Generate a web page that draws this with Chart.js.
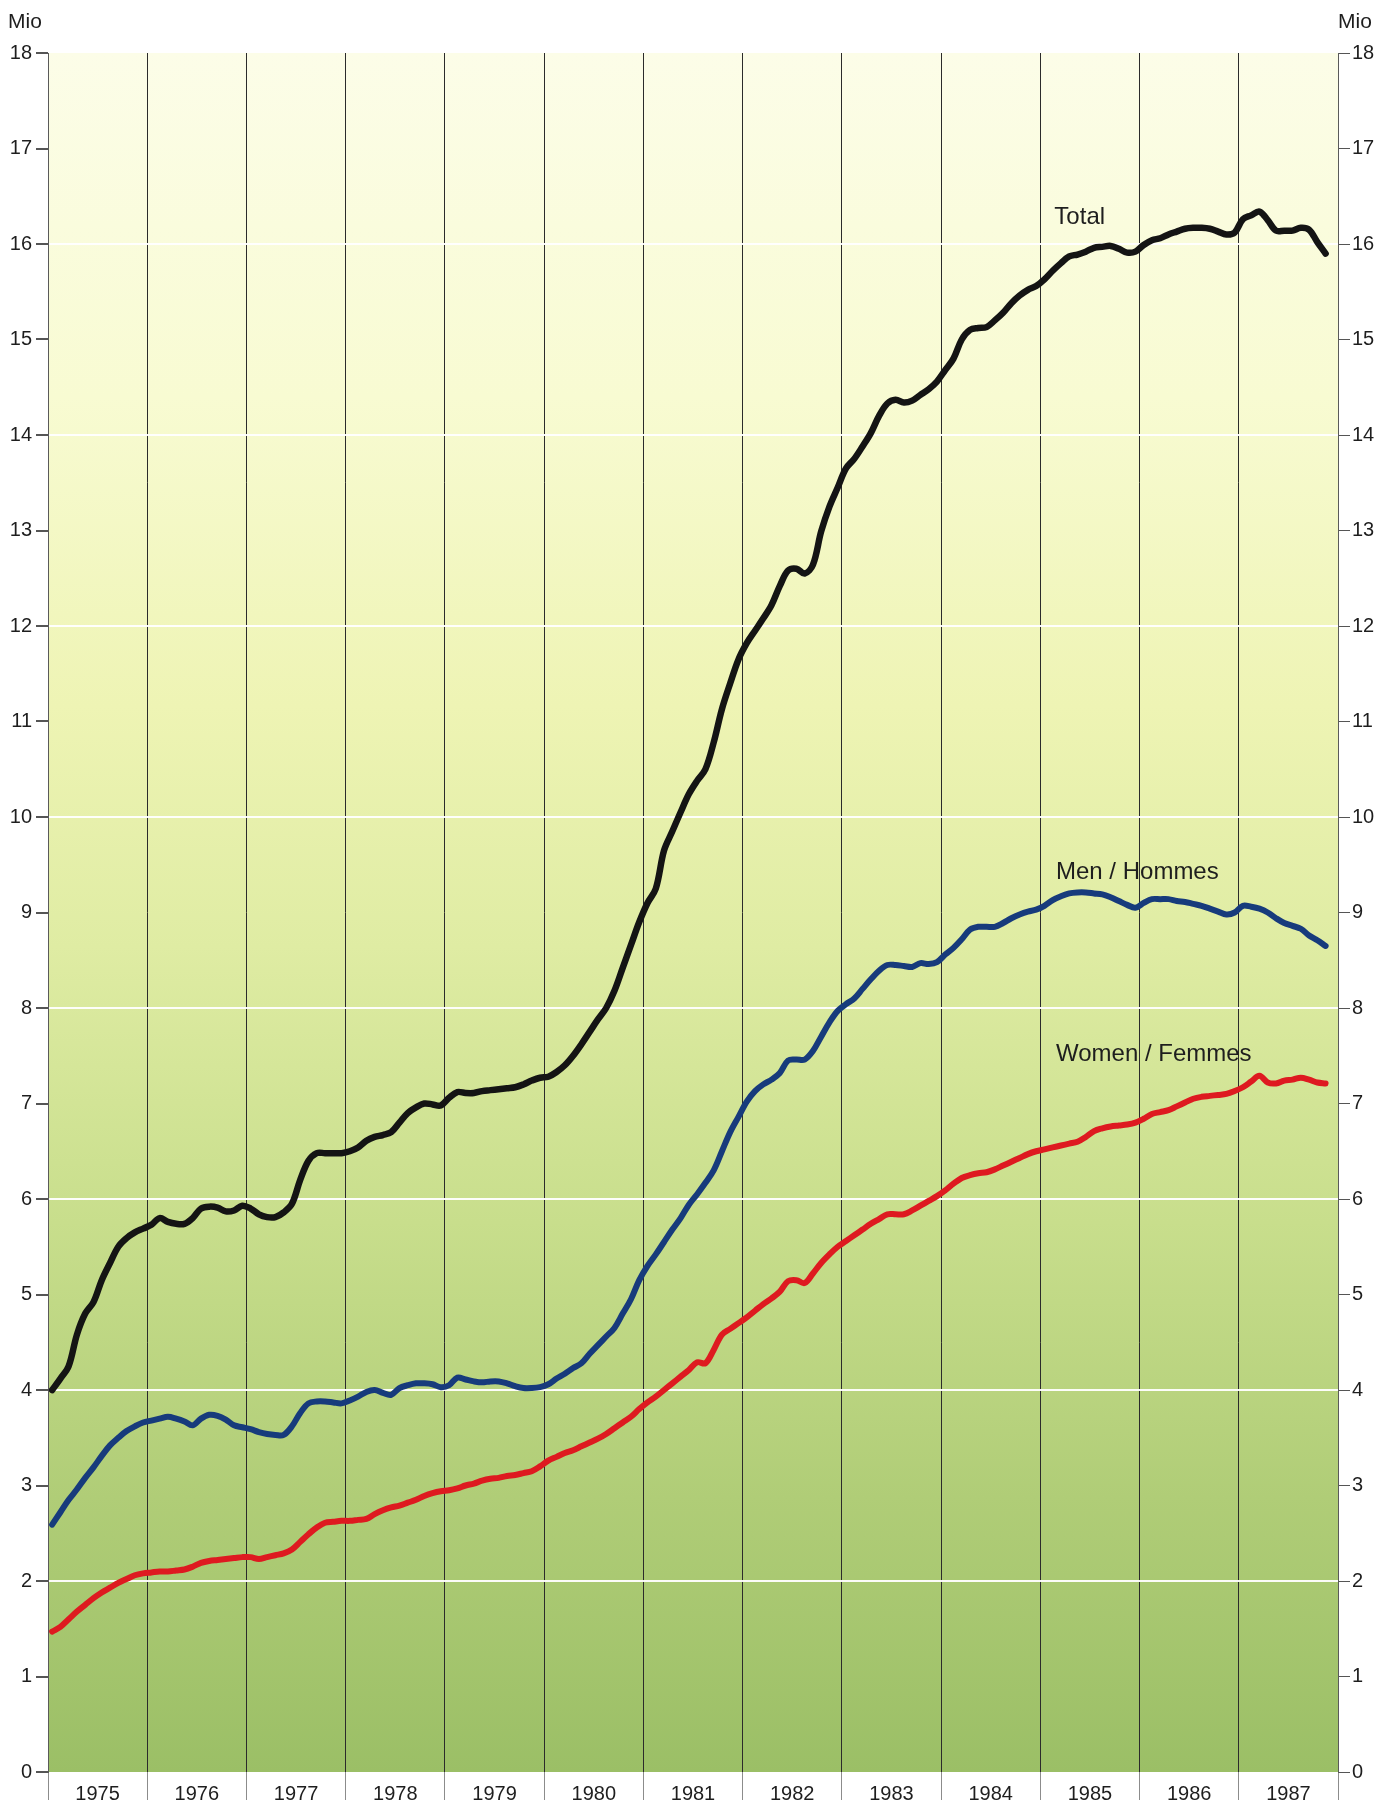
<!DOCTYPE html>
<html>
<head>
<meta charset="utf-8">
<script src="https://cdn.jsdelivr.net/npm/chart.js@4.4.0/dist/chart.umd.min.js"></script>
<style>
  html, body { margin: 0; padding: 0; background: #ffffff; }
  #chart { display: block; }
</style>
</head>
<body>
<canvas id="chart" width="1386" height="1805"></canvas>
<script>
// Jahre (x-Achse, je 12 Monate)
const years = ['1975','1976','1977','1978','1979','1980','1981','1982','1983','1984','1985','1986','1987'];

// Monatswerte in Mio, Jan 1975 - Nov 1987
const total = [
  4.00, 4.12, 4.25, 4.58, 4.80, 4.92, 5.15, 5.33, 5.50, 5.59, 5.65, 5.69,
  5.73, 5.80, 5.76, 5.74, 5.74, 5.80, 5.90, 5.92, 5.91, 5.87, 5.88, 5.93,
  5.90, 5.84, 5.81, 5.81, 5.86, 5.95, 6.20, 6.40, 6.48, 6.48, 6.48, 6.48,
  6.50, 6.54, 6.61, 6.65, 6.67, 6.70, 6.80, 6.90, 6.96, 7.00, 6.99, 6.98,
  7.06, 7.12, 7.11, 7.11, 7.13, 7.14, 7.15, 7.16, 7.17, 7.20, 7.24, 7.27,
  7.28, 7.33, 7.40, 7.50, 7.62, 7.75, 7.88, 8.00, 8.18, 8.42, 8.66, 8.90,
  9.10, 9.25, 9.65, 9.85, 10.05, 10.24, 10.38, 10.50, 10.78, 11.13, 11.40, 11.65,
  11.82, 11.95, 12.08, 12.22, 12.42, 12.58, 12.60, 12.55, 12.64, 12.99, 13.25, 13.45,
  13.65, 13.75, 13.88, 14.02, 14.20, 14.33, 14.37, 14.34, 14.36, 14.42, 14.48, 14.56,
  14.68, 14.80, 15.00, 15.10, 15.12, 15.13, 15.20, 15.28, 15.38, 15.46, 15.52, 15.56,
  15.63, 15.72, 15.80, 15.87, 15.89, 15.92, 15.96, 15.97, 15.98, 15.95, 15.91, 15.92,
  15.99, 16.04, 16.06, 16.10, 16.13, 16.16, 16.17, 16.17, 16.16, 16.13, 16.10, 16.12,
  16.26, 16.30, 16.34, 16.25, 16.14, 16.14, 16.14, 16.17, 16.15, 16.02, 15.90
];
const men = [
  2.59, 2.72, 2.85, 2.96, 3.08, 3.19, 3.31, 3.42, 3.50, 3.57, 3.62, 3.66,
  3.68, 3.70, 3.72, 3.70, 3.67, 3.63, 3.70, 3.74, 3.73, 3.69, 3.63, 3.61,
  3.59, 3.56, 3.54, 3.53, 3.53, 3.62, 3.76, 3.86, 3.88, 3.88, 3.87, 3.86,
  3.89, 3.93, 3.98, 4.00, 3.97, 3.95, 4.02, 4.05, 4.07, 4.07, 4.06, 4.03,
  4.05, 4.13, 4.11, 4.09, 4.08, 4.09, 4.09, 4.07, 4.04, 4.02, 4.02, 4.03,
  4.06, 4.12, 4.17, 4.23, 4.28, 4.38, 4.47, 4.56, 4.65, 4.80, 4.95, 5.15,
  5.30, 5.42, 5.55, 5.68, 5.80, 5.94, 6.05, 6.17, 6.30, 6.50, 6.70, 6.86,
  7.02, 7.13, 7.20, 7.25, 7.32, 7.45, 7.46, 7.46, 7.55, 7.70, 7.85, 7.97,
  8.04, 8.10, 8.20, 8.30, 8.39, 8.45, 8.45, 8.44, 8.43, 8.47, 8.46, 8.48,
  8.56, 8.63, 8.72, 8.82, 8.85, 8.85, 8.85, 8.89, 8.94, 8.98, 9.01, 9.03,
  9.07, 9.13, 9.17, 9.20, 9.21, 9.21, 9.20, 9.19, 9.16, 9.12, 9.08, 9.05,
  9.10, 9.14, 9.14, 9.14, 9.12, 9.11, 9.09, 9.07, 9.04, 9.01, 8.98, 9.00,
  9.07, 9.06, 9.04, 9.00, 8.94, 8.89, 8.86, 8.83, 8.76, 8.71, 8.65
];
const women = [
  1.47, 1.52, 1.60, 1.68, 1.75, 1.82, 1.88, 1.93, 1.98, 2.02, 2.06, 2.08,
  2.09, 2.10, 2.10, 2.11, 2.12, 2.15, 2.19, 2.21, 2.22, 2.23, 2.24, 2.25,
  2.25, 2.23, 2.25, 2.27, 2.29, 2.33, 2.41, 2.49, 2.56, 2.61, 2.62, 2.63,
  2.63, 2.64, 2.65, 2.70, 2.74, 2.77, 2.79, 2.82, 2.85, 2.89, 2.92, 2.94,
  2.95, 2.97, 3.00, 3.02, 3.05, 3.07, 3.08, 3.10, 3.11, 3.13, 3.15, 3.20,
  3.26, 3.30, 3.34, 3.37, 3.41, 3.45, 3.49, 3.54, 3.60, 3.66, 3.72, 3.80,
  3.87, 3.93, 4.00, 4.07, 4.14, 4.21, 4.29, 4.28, 4.42, 4.58, 4.64, 4.70,
  4.76, 4.83, 4.90, 4.96, 5.03, 5.14, 5.15, 5.12, 5.22, 5.33, 5.42, 5.50,
  5.56, 5.62, 5.68, 5.74, 5.79, 5.84, 5.84, 5.84, 5.88, 5.93, 5.98, 6.03,
  6.09, 6.16, 6.22, 6.25, 6.27, 6.28, 6.31, 6.35, 6.39, 6.43, 6.47, 6.50,
  6.52, 6.54, 6.56, 6.58, 6.60, 6.65, 6.71, 6.74, 6.76, 6.77, 6.78, 6.80,
  6.84, 6.89, 6.91, 6.93, 6.97, 7.01, 7.05, 7.07, 7.08, 7.09, 7.10, 7.13,
  7.17, 7.23, 7.29, 7.22, 7.21, 7.24, 7.25, 7.27, 7.25, 7.22, 7.21
];

// Beschriftung der Kurven
const seriesNames = ['Total', 'Men / Hommes', 'Women / Femmes'];

const FONT = '"Liberation Sans", Arial, Helvetica, sans-serif';
const toPoints = arr => arr.map((v, i) => ({ x: i + 0.5, y: v }));

// Hintergrund: blassgelb oben, grün unten
const backgroundPlugin = {
  id: 'paper',
  beforeDraw(chart) {
    const { ctx, chartArea: a } = chart;
    const g = ctx.createLinearGradient(0, a.top, 0, a.bottom);
    g.addColorStop(0.00, '#fcfde8');
    g.addColorStop(0.20, '#f8fbd2');
    g.addColorStop(0.38, '#eef4b4');
    g.addColorStop(0.52, '#dfeca3');
    g.addColorStop(0.68, '#c8de8c');
    g.addColorStop(0.84, '#b0cd77');
    g.addColorStop(1.00, '#9bbf66');
    ctx.save();
    ctx.fillStyle = g;
    ctx.fillRect(a.left, a.top, a.right - a.left, a.bottom - a.top);
    ctx.restore();
  }
};

// Jahreszahlen, "Mio" und Kurvennamen
const textPlugin = {
  id: 'texts',
  afterDraw(chart) {
    const { ctx, chartArea: a, scales } = chart;
    ctx.save();
    ctx.fillStyle = '#1e1e1e';
    ctx.textBaseline = 'middle';

    ctx.font = '20px ' + FONT;
    ctx.textAlign = 'center';
    years.forEach((y, i) => {
      ctx.fillText(y, scales.x.getPixelForValue(i * 12 + 6), a.bottom + 22);
    });

    ctx.font = '21px ' + FONT;
    ctx.textAlign = 'left';
    ctx.fillText('Mio', 8, 22);
    ctx.fillText('Mio', 1338, 22);

    ctx.font = '24px ' + FONT;
    const pos = [[121.7, 16.28], [121.9, 9.42], [121.9, 7.51]];
    seriesNames.forEach((name, i) => {
      ctx.fillText(name, scales.x.getPixelForValue(pos[i][0]), scales.y.getPixelForValue(pos[i][1]));
    });
    ctx.restore();
  }
};

const yearLine = v => (v % 12 === 0 && v > 0 && v < 156) ? '#2b2b2b' : 'rgba(0,0,0,0)';

new Chart(document.getElementById('chart'), {
  type: 'line',
  data: {
    datasets: [
      { label: seriesNames[0], data: toPoints(total), borderColor: '#141414', borderWidth: 6.5 },
      { label: seriesNames[1], data: toPoints(men), borderColor: '#173b7c', borderWidth: 6 },
      { label: seriesNames[2], data: toPoints(women), borderColor: '#de1a20', borderWidth: 6 }
    ]
  },
  options: {
    responsive: false,
    animation: false,
    devicePixelRatio: 1,
    layout: { padding: { top: 53, left: 0, right: 0, bottom: 0 } },
    elements: {
      point: { radius: 0 },
      line: { tension: 0.35, borderCapStyle: 'round', borderJoinStyle: 'round' }
    },
    plugins: {
      legend: { display: false },
      tooltip: { enabled: false }
    },
    scales: {
      x: {
        type: 'linear',
        min: 0,
        max: 156,
        afterBuildTicks: s => { s.ticks = years.concat(['']).map((_, i) => ({ value: i * 12 })); },
        afterFit: s => { s.height = 33; },
        ticks: { display: false },
        border: { display: false },
        grid: {
          color: c => yearLine(c.tick.value),
          tickColor: '#8c8c8c',
          lineWidth: 1,
          tickLength: 28
        }
      },
      y: {
        position: 'left',
        min: 0,
        max: 18,
        afterFit: s => { s.width = 48; },
        ticks: { stepSize: 1, padding: 4, color: '#1e1e1e', font: { family: FONT, size: 20 } },
        border: { color: '#5a5a5a', width: 1 },
        grid: {
          color: c => (c.tick.value % 2 === 0 && c.tick.value > 0 && c.tick.value < 18) ? 'rgba(255,255,255,0.95)' : 'rgba(0,0,0,0)',
          lineWidth: 2,
          tickColor: '#555555',
          tickLength: 12
        }
      },
      y2: {
        position: 'right',
        min: 0,
        max: 18,
        afterFit: s => { s.width = 48; },
        ticks: { stepSize: 1, padding: 2, color: '#1e1e1e', font: { family: FONT, size: 20 } },
        border: { color: '#5a5a5a', width: 1 },
        grid: { drawOnChartArea: false, tickColor: '#555555', tickLength: 12 }
      }
    }
  },
  plugins: [backgroundPlugin, textPlugin]
});
</script>
</body>
</html>
